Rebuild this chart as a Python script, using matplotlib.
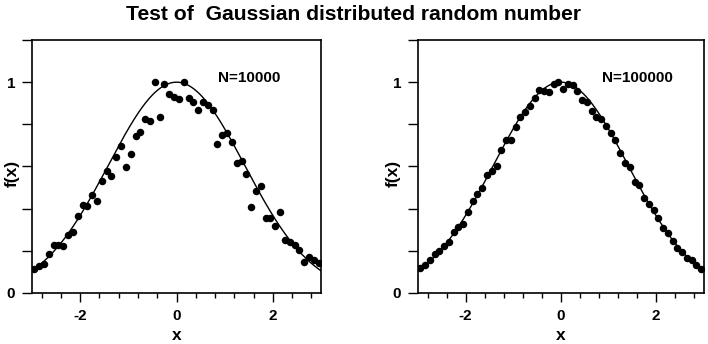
import numpy as np
import matplotlib
matplotlib.use("Agg")
import matplotlib.pyplot as plt
from matplotlib.ticker import MultipleLocator

plt.rcParams['font.family'] = ['Liberation Sans', 'DejaVu Sans']
plt.rcParams['font.weight'] = 'bold'
plt.rcParams['axes.unicode_minus'] = False

x_centers = [round(-2.95 + 0.1 * i, 2) for i in range(60)]

f_n10000 = [0.114, 0.130, 0.137, 0.186, 0.229, 0.229, 0.221, 0.276, 0.288, 0.363,
            0.419, 0.414, 0.463, 0.438, 0.529, 0.577, 0.553, 0.643, 0.695, 0.600,
            0.660, 0.746, 0.766, 0.825, 0.818, 1.000, 0.837, 0.990, 0.943, 0.932,
            0.919, 1.000, 0.924, 0.904, 0.869, 0.907, 0.893, 0.869, 0.706, 0.749,
            0.761, 0.716, 0.616, 0.624, 0.566, 0.406, 0.482, 0.509, 0.355, 0.355,
            0.316, 0.382, 0.253, 0.240, 0.229, 0.205, 0.145, 0.169, 0.158, 0.142]

f_n100000 = [0.120, 0.134, 0.158, 0.185, 0.197, 0.221, 0.240, 0.288, 0.313, 0.329,
             0.382, 0.436, 0.471, 0.496, 0.561, 0.581, 0.603, 0.679, 0.725, 0.725,
             0.785, 0.833, 0.859, 0.888, 0.927, 0.964, 0.957, 0.954, 0.991, 1.000,
             0.968, 0.992, 0.986, 0.959, 0.916, 0.908, 0.864, 0.837, 0.825, 0.790,
             0.758, 0.724, 0.664, 0.616, 0.597, 0.526, 0.513, 0.450, 0.423, 0.392,
             0.355, 0.308, 0.284, 0.245, 0.213, 0.193, 0.166, 0.155, 0.134, 0.114]

sigma = np.sqrt(2.0)
labels = ["N=10000", "N=100000"]
title = "Test of  Gaussian distributed random number"

W, H = 708, 344
fig = plt.figure(figsize=(W / 100, H / 100), dpi=100)
ax_pos = [[32/W, 51/H, 289/W, 253/H],
          [418/W, 51/H, 285.5/W, 253/H]]
ylabel_x = [12, 393]

xc = np.linspace(-3, 3, 400)
curve = np.exp(-xc**2 / (2 * sigma**2))

for pos, ys, lab, ylx in zip(ax_pos, [f_n10000, f_n100000], labels, ylabel_x):
    ax = fig.add_axes(pos)
    ax.plot(xc, curve, color='black', lw=1.0)
    ax.plot(x_centers, ys, 'o', color='black', ms=5.4, mew=0)
    ax.set_xlim(-3, 3)
    ax.set_ylim(0, 1.2)
    ax.xaxis.set_major_locator(MultipleLocator(2))
    ax.xaxis.set_minor_locator(MultipleLocator(0.4))
    ax.yaxis.set_major_locator(MultipleLocator(1))
    ax.yaxis.set_minor_locator(MultipleLocator(0.2))
    ax.tick_params(axis='both', which='both', direction='out', top=False, right=False,
                   width=1.0, labelsize=11)
    ax.tick_params(axis='x', which='major', length=6.5, pad=5)
    ax.tick_params(axis='x', which='minor', length=3.5)
    ax.tick_params(axis='y', which='both', length=7, pad=5)
    for lbl in ax.get_xticklabels() + ax.get_yticklabels():
        lbl.set_fontweight('bold')
    for s in ax.spines.values():
        s.set_linewidth(1.2)
    ax.text(0.643, 0.848, lab, transform=ax.transAxes, fontsize=11,
            fontweight='bold', va='center', ha='left')
    xmid = (pos[0] + pos[2] * 0.5)
    fig.text(xmid, 1 - 336/H, 'x', fontsize=12.5, fontweight='bold',
             ha='center', va='center')
    fig.text(ylx / W, 1 - 173/H, 'f(x)', fontsize=12.5, fontweight='bold',
             ha='center', va='center', rotation=90)

fig.text(0.5, 1 - 14/H, title, fontsize=15.2, fontweight='bold', ha='center', va='center')

fig.savefig('out.png', dpi=100)
